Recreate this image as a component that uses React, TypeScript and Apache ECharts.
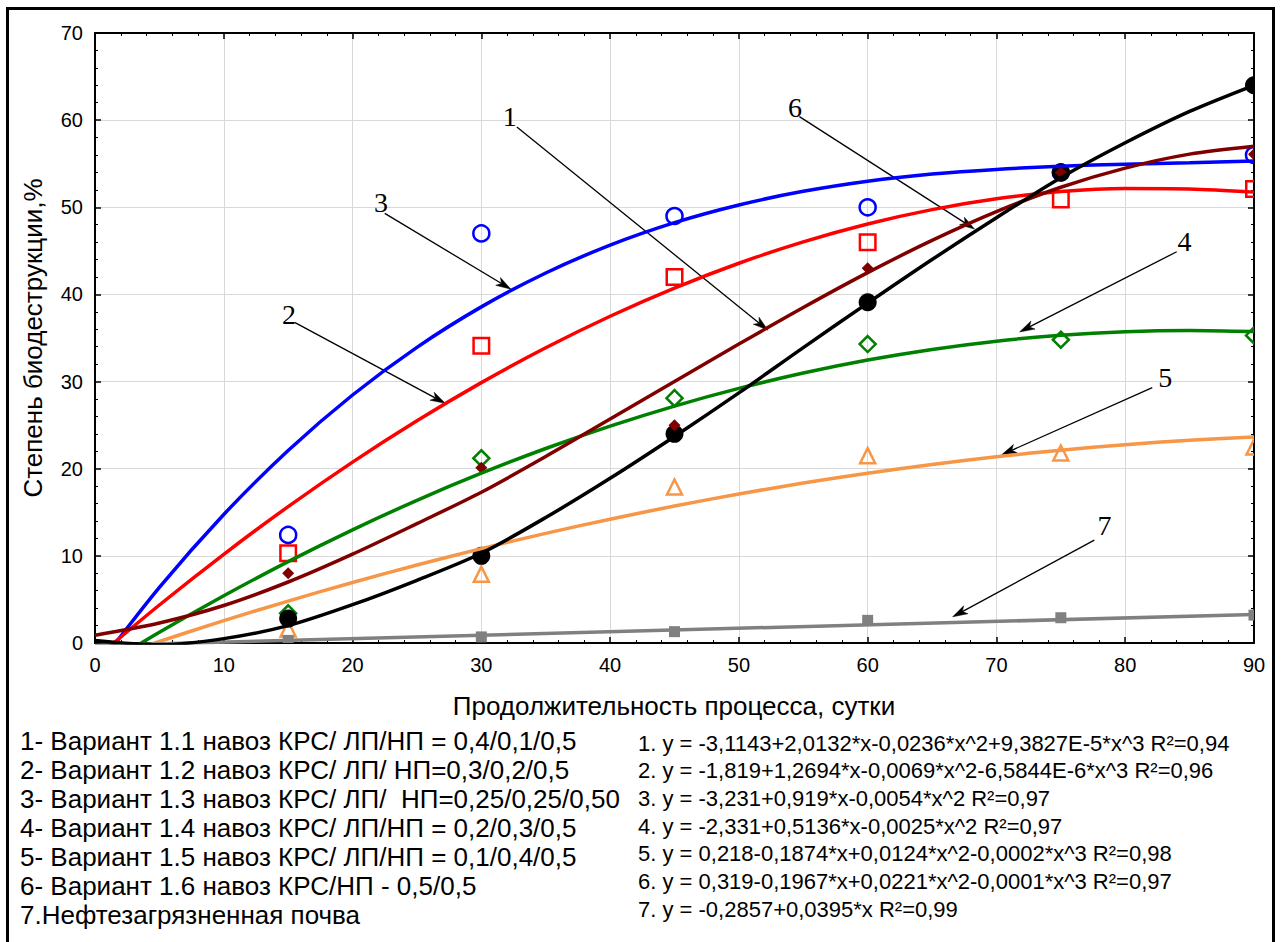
import React, { useEffect, useRef } from "react";
import * as echarts from "echarts";

// ---- data ----
// sampling days for the fitted curves
const fitX = [0, 5, 10, 15, 20, 25, 30, 35, 40, 45, 50, 55, 60, 65, 70, 75, 80, 85, 90];
// fitted curves (degree of biodestruction, %)
const fitBlue = [-3.11, 6.37, 14.75, 22.09, 28.46, 33.93, 38.57, 42.46, 45.66, 48.24, 50.27, 51.83, 52.99, 53.81, 54.35, 54.71, 54.95, 55.12, 55.32];
const fitRed = [-1.82, 4.36, 10.18, 15.65, 20.76, 25.5, 29.88, 33.88, 37.5, 40.73, 43.58, 46.03, 48.08, 49.73, 50.97, 51.8, 52.15, 52.1, 51.74];
const fitGreen = [-3.23, 1.23, 5.42, 9.34, 12.99, 16.37, 19.48, 22.32, 24.89, 27.19, 29.22, 30.98, 32.47, 33.69, 34.64, 35.32, 35.73, 35.87, 35.74];
const fitOrange = [-2.33, 0.17, 2.56, 4.81, 6.94, 8.95, 10.83, 12.58, 14.21, 15.72, 17.1, 18.35, 19.49, 20.49, 21.37, 22.13, 22.76, 23.26, 23.64];
const fitBrown = [0.9, 2.3, 4.3, 7.0, 10.2, 13.7, 17.3, 21.4, 25.7, 30.0, 34.3, 38.5, 42.5, 46.2, 49.5, 52.3, 54.5, 56.1, 57.0];
const fitBlack = [0.3, -0.2, 0.5, 2.0, 4.4, 7.2, 10.3, 14.4, 18.9, 23.7, 28.7, 33.9, 39.0, 44.0, 48.8, 53.4, 57.4, 61.0, 64.0];
const grayX = [0, 90];
const fitGray = [-0.29, 3.27];

// measured points
const days = [15, 30, 45, 60, 75, 90];
const obsBlue = [12.4, 47.0, 49.0, 50.0, 54.0, 56.0];
const obsRed = [10.3, 34.1, 42.0, 46.0, 50.9, 52.1];
const obsBrown = [8.0, 20.1, 25.0, 43.0, 54.0, 56.1];
const obsGreen = [3.4, 21.2, 28.1, 34.3, 34.8, 35.3];
const obsOrange = [1.6, 7.9, 17.9, 21.5, 21.8, 22.5];
const obsGray = [0.3, 0.7, 1.3, 2.6, 2.9, 3.2];
const obsBlack = [2.8, 10.0, 24.0, 39.1, 54.0, 64.0];

// callout numbers and their leader arrows (data coordinates)
const calloutText = ["1", "6", "3", "2", "4", "5", "7"];
const calloutPos = [
  [32.2, 60.4], [54.35, 61.5], [22.2, 50.5], [15.06, 37.75], [84.6, 46.1], [83.1, 30.5], [78.4, 13.5],
];
const arrowFrom = [
  [32.76, 59.2], [54.7, 60.4], [22.5, 49.3], [15.5, 36.8], [84.0, 44.9], [82.1, 29.3], [77.6, 11.8],
];
const arrowTo = [
  [52.25, 35.9], [68.3, 47.5], [32.3, 40.6], [27.2, 27.5], [71.8, 35.7], [70.4, 21.6], [66.6, 3.0],
];

// axis settings
const xMin = 0, xMax = 90, xStep = 10;
const yMin = 0, yMax = 70, yStep = 10;

const xTitle = "Продолжительность процесса, сутки";
const yTitle = "Степень биодеструкции,%";

const legendLines = [
  "1- Вариант 1.1 навоз КРС/ ЛП/НП = 0,4/0,1/0,5",
  "2- Вариант 1.2 навоз КРС/ ЛП/ НП=0,3/0,2/0,5",
  "3- Вариант 1.3 навоз КРС/ ЛП/  НП=0,25/0,25/0,50",
  "4- Вариант 1.4 навоз КРС/ ЛП/НП = 0,2/0,3/0,5",
  "5- Вариант 1.5 навоз КРС/ ЛП/НП = 0,1/0,4/0,5",
  "6- Вариант 1.6 навоз КРС/НП - 0,5/0,5",
  "7.Нефтезагрязненная почва",
];
const equationLines = [
  "1. y = -3,1143+2,0132*x-0,0236*x^2+9,3827E-5*x^3 R²=0,94",
  "2. y = -1,819+1,2694*x-0,0069*x^2-6,5844E-6*x^3 R²=0,96",
  "3. y = -3,231+0,919*x-0,0054*x^2 R²=0,97",
  "4. y = -2,331+0,5136*x-0,0025*x^2 R²=0,97",
  "5. y = 0,218-0,1874*x+0,0124*x^2-0,0002*x^3 R²=0,98",
  "6. y = 0,319-0,1967*x+0,0221*x^2-0,0001*x^3 R²=0,97",
  "7. y = -0,2857+0,0395*x R²=0,99",
];

const SANS = "Liberation Sans, Arial, sans-serif";
const SERIF = "Liberation Serif, Times New Roman, serif";

function curve(xs: number[], ys: number[], color: string) {
  return {
    type: "line",
    data: xs.map((x, i) => [x, ys[i]]),
    smooth: 0.3,
    showSymbol: false,
    symbol: "none",
    clip: true,
    silent: true,
    lineStyle: { color, width: 3.5 },
  };
}

function markers(ys: number[], kind: string, size: number, color: string, filled: boolean) {
  return {
    type: "custom",
    clip: true,
    silent: true,
    encode: { x: 0, y: 1 },
    data: days.map((d, i) => [d, ys[i]]),
    renderItem: (_params: any, api: any) => {
      const [cx, cy] = api.coord([api.value(0), api.value(1)]);
      const h = size / 2;
      const style = filled
        ? { fill: color, stroke: null }
        : { fill: "none", stroke: color, lineWidth: 2.5 };
      if (kind === "circle") return { type: "circle", shape: { cx, cy, r: h }, style };
      if (kind === "square") return { type: "rect", shape: { x: cx - h, y: cy - h, width: size, height: size }, style };
      if (kind === "diamond")
        return { type: "polygon", shape: { points: [[cx, cy - h], [cx + h, cy], [cx, cy + h], [cx - h, cy]] }, style };
      return { type: "polygon", shape: { points: [[cx, cy - h], [cx + h, cy + h], [cx - h, cy + h]] }, style };
    },
  };
}

const arrowSeries = {
  type: "custom",
  clip: false,
  silent: true,
  encode: { x: 0, y: 1 },
  data: arrowFrom.map((p, i) => [p[0], p[1], arrowTo[i][0], arrowTo[i][1]]),
  renderItem: (_params: any, api: any) => {
    const a = api.coord([api.value(0), api.value(1)]);
    const b = api.coord([api.value(2), api.value(3)]);
    const dx = b[0] - a[0], dy = b[1] - a[1];
    const len = Math.sqrt(dx * dx + dy * dy);
    const ux = dx / len, uy = dy / len;
    const nx = -uy, ny = ux;
    const L = 15, W = 4.5, notch = 4;
    const base = [b[0] - L * ux, b[1] - L * uy];
    return {
      type: "group",
      children: [
        {
          type: "line",
          shape: { x1: a[0], y1: a[1], x2: b[0] - (L - notch) * ux, y2: b[1] - (L - notch) * uy },
          style: { stroke: "#000", lineWidth: 1.3 },
        },
        {
          type: "polygon",
          shape: {
            points: [
              [b[0], b[1]],
              [base[0] + W * nx, base[1] + W * ny],
              [b[0] - (L - notch) * ux, b[1] - (L - notch) * uy],
              [base[0] - W * nx, base[1] - W * ny],
            ],
          },
          style: { fill: "#000", stroke: "#000", lineWidth: 0.5 },
        },
      ],
    };
  },
};

const calloutSeries = {
  type: "custom",
  clip: false,
  silent: true,
  encode: { x: 0, y: 1 },
  data: calloutPos.map((p) => [p[0], p[1]]),
  renderItem: (params: any, api: any) => {
    const [cx, cy] = api.coord([api.value(0), api.value(1)]);
    return {
      type: "text",
      x: cx,
      y: cy,
      style: {
        text: calloutText[params.dataIndex],
        fontFamily: SERIF,
        fontSize: 28,
        fill: "#000",
        align: "center",
        verticalAlign: "middle",
      },
    };
  },
};

function axisCommon(showLabel: boolean, showGrid: boolean) {
  return {
    type: "value",
    axisLine: { show: true, onZero: false, lineStyle: { color: "#000", width: 2 } },
    axisTick: { show: true, inside: true, length: 6, lineStyle: { color: "#000", width: 1.5 } },
    minorTick: { show: true, splitNumber: 5, length: 3, lineStyle: { color: "#000", width: 1 } },
    splitLine: { show: showGrid, lineStyle: { color: "#d9d9d9", width: 1 } },
    axisLabel: { show: showLabel, color: "#000", fontFamily: SANS, fontSize: 20, margin: 12 },
  };
}

export default function App() {
  const ref = useRef<HTMLDivElement>(null);

  useEffect(() => {
    if (!ref.current) return;
    const chart = echarts.init(ref.current, undefined, { renderer: "svg" });

    const graphic: any[] = [
      {
        type: "rect",
        silent: true,
        shape: { x: 7.5, y: 8.5, width: 1266, height: 1000 },
        style: { fill: "none", stroke: "#000", lineWidth: 3 },
      },
      {
        type: "text",
        silent: true,
        x: 33,
        y: 338,
        rotation: Math.PI / 2,
        style: { text: yTitle, fontFamily: SANS, fontSize: 26, fill: "#000", align: "center", verticalAlign: "middle" },
      },
      {
        type: "text",
        silent: true,
        x: 674,
        y: 706,
        style: { text: xTitle, fontFamily: SANS, fontSize: 26, fill: "#000", align: "center", verticalAlign: "middle" },
      },
    ];
    legendLines.forEach((t, i) => {
      graphic.push({
        type: "text",
        silent: true,
        x: 20,
        y: 741 + i * 29,
        style: { text: t, fontFamily: SANS, fontSize: 26, fill: "#000", align: "left", verticalAlign: "middle" },
      });
    });
    equationLines.forEach((t, i) => {
      graphic.push({
        type: "text",
        silent: true,
        x: 638,
        y: 743 + i * 27.7,
        style: { text: t, fontFamily: SANS, fontSize: 22, fill: "#000", align: "left", verticalAlign: "middle" },
      });
    });

    chart.setOption({
      animation: false,
      backgroundColor: "#fff",
      grid: { left: 95, right: 27, top: 33, bottom: 299, containLabel: false },
      xAxis: [
        { ...axisCommon(true, true), position: "bottom", min: xMin, max: xMax, interval: xStep },
        { ...axisCommon(false, false), position: "top", min: xMin, max: xMax, interval: xStep },
      ],
      yAxis: [
        { ...axisCommon(true, true), position: "left", min: yMin, max: yMax, interval: yStep },
        { ...axisCommon(false, false), position: "right", min: yMin, max: yMax, interval: yStep },
      ],
      series: [
        curve(fitX, fitBlue, "#0000FF"),
        curve(fitX, fitRed, "#FF0000"),
        curve(fitX, fitGreen, "#008000"),
        curve(fitX, fitOrange, "#F79646"),
        curve(grayX, fitGray, "#808080"),
        curve(fitX, fitBrown, "#800000"),
        curve(fitX, fitBlack, "#000000"),
        markers(obsOrange, "triangle", 15, "#F79646", false),
        markers(obsGreen, "diamond", 16, "#008000", false),
        markers(obsGray, "square", 11, "#808080", true),
        markers(obsRed, "square", 15.5, "#FF0000", false),
        markers(obsBlue, "circle", 16, "#0000FF", false),
        markers(obsBlack, "circle", 18, "#000000", true),
        markers(obsBrown, "diamond", 12, "#800000", true),
        arrowSeries,
        calloutSeries,
      ],
      graphic,
    });

    return () => chart.dispose();
  }, []);

  return (
    <div
      ref={ref}
      style={{ position: "fixed", left: 0, top: 0, width: 1281, height: 942, background: "#fff" }}
    />
  );
}
